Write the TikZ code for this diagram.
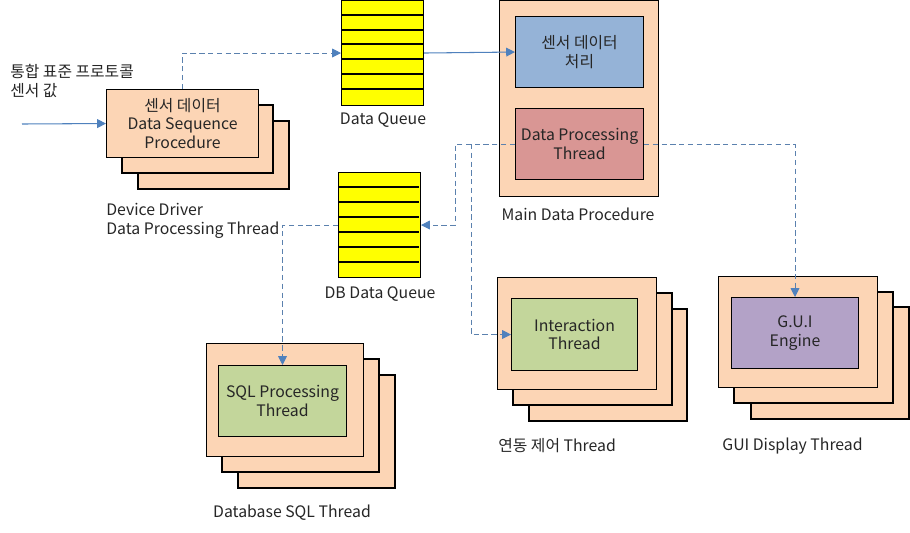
\documentclass[tikz,border=0pt]{standalone}
\usepackage{fontspec}
\setmainfont{Noto Sans CJK KR}
\usetikzlibrary{arrows.meta}

\definecolor{peach}{HTML}{FCD5B5}
\definecolor{qyellow}{HTML}{FFFF00}
\definecolor{procblue}{HTML}{95B3D7}
\definecolor{procred}{HTML}{D99694}
\definecolor{thgreen}{HTML}{C3D69B}
\definecolor{guipurple}{HTML}{B3A2C7}
\definecolor{linkblue}{HTML}{4F81BD}

\tikzset{
  every node/.style={font=\fontsize{9}{10.7}\selectfont, inner sep=0pt, text=black!85},
  layer/.style={draw=black, fill=peach, semithick},
  inbox/.style={draw=black, semithick, align=center},
  qbox/.style={draw=black, fill=qyellow, semithick, anchor=north west,
    minimum width=1.64cm, minimum height=2.1cm},
  caption/.style={align=left, anchor=north west},
  solidarr/.style={linkblue, semithick, -{Triangle[length=5pt,width=5pt]}},
  dasharr/.style={linkblue!75!gray, dash pattern=on 3pt off 2pt,
    -{Triangle[length=5pt,width=5pt,color=linkblue,fill=linkblue]}},
}

\begin{document}
\begin{tikzpicture}[x=0.02cm,y=-0.02cm]
  \useasboundingbox (0,0) rectangle (910,532);

  % input
  \node[caption] (input) at (10,64) {통합 표준 프로토콜\\센서 값};
  \coordinate (src) at (22,124);

  % device driver
  \draw[layer] (138,121) rectangle (289,189);
  \draw[layer] (122,105) rectangle (273,173);
  \node[layer, inbox, anchor=north west, minimum width=3.04cm, minimum height=1.36cm]
    (dd) at (106,89) {센서 데이터\\Data Sequence\\Procedure};
  \node[caption] (ddlbl) at (106,203) {Device Driver\\Data Processing Thread};

  % data queue
  \node[qbox] (dq) at (341,0) {};
  \foreach \y in {15,30,44,59,74,89}
    \draw[semithick] (341,\y) -- (423,\y);
  \node (dqlbl) at (383,120) {Data Queue};

  % main data procedure
  \node[layer, anchor=north west, minimum width=3.18cm, minimum height=3.92cm]
    (main) at (499,0) {};
  \node[inbox, fill=procblue, anchor=north west, minimum width=2.56cm, minimum height=1.42cm]
    (proc) at (515,16) {센서 데이터\\처리};
  \node[inbox, fill=procred, anchor=north west, minimum width=2.56cm, minimum height=1.42cm]
    (dpt) at (515,108) {Data Processing\\Thread};
  \node (mainlbl) at (578,214) {Main Data Procedure};

  % db data queue
  \node[qbox] (dbq) at (338,172) {};
  \foreach \y in {187,202,217,232,247,262}
    \draw[semithick] (338,\y) -- (419,\y);
  \node (dbqlbl) at (380,294) {DB Data Queue};

  % database sql thread
  \draw[layer] (238,375) rectangle (395,488);
  \draw[layer] (222,359) rectangle (379,472);
  \node[layer, anchor=north west, minimum width=3.14cm, minimum height=2.26cm]
    (dbs) at (206,343) {};
  \node[inbox, fill=thgreen, anchor=north west, minimum width=2.56cm, minimum height=1.42cm]
    (sql) at (218,365) {SQL Processing\\Thread};
  \node (dbslbl) at (292,513) {Database SQL Thread};

  % interaction thread
  \draw[layer] (529,309) rectangle (687,421);
  \draw[layer] (513,293) rectangle (672,405);
  \node[layer, anchor=north west, minimum width=3.18cm, minimum height=2.24cm]
    (ctl) at (497,277) {};
  \node[inbox, fill=thgreen, anchor=north west, minimum width=2.52cm, minimum height=1.44cm]
    (inter) at (511,298) {Interaction\\Thread};
  \node[anchor=west] (ctllbl) at (498,446) {연동 제어 Thread};

  % gui display thread
  \draw[layer] (751,307) rectangle (909,419);
  \draw[layer] (734,292) rectangle (893,403);
  \node[layer, anchor=north west, minimum width=3.18cm, minimum height=2.22cm]
    (disp) at (718,276) {};
  \node[inbox, fill=guipurple, anchor=north west, minimum width=2.54cm, minimum height=1.42cm]
    (gui) at (731,297) {G.U.I\\Engine};
  \node[anchor=west] (displbl) at (722,446) {GUI Display Thread};

  % connectors
  \draw[solidarr] (src) -- (dd.west);
  \draw[dasharr] (dd.north) |- (dq.west);
  \draw[solidarr] (dq.east) -- (proc.west);
  \draw[dasharr] (dpt.west) -- ++(-60,0) |- (dbq.east);
  \draw[dasharr] (dpt.west) -- ++(-44,0) |- (inter.west);
  \draw[dasharr] (dpt.east) -| (gui.north);
  \draw[dasharr] (dbq.west) -| (sql.north);
\end{tikzpicture}
\end{document}
